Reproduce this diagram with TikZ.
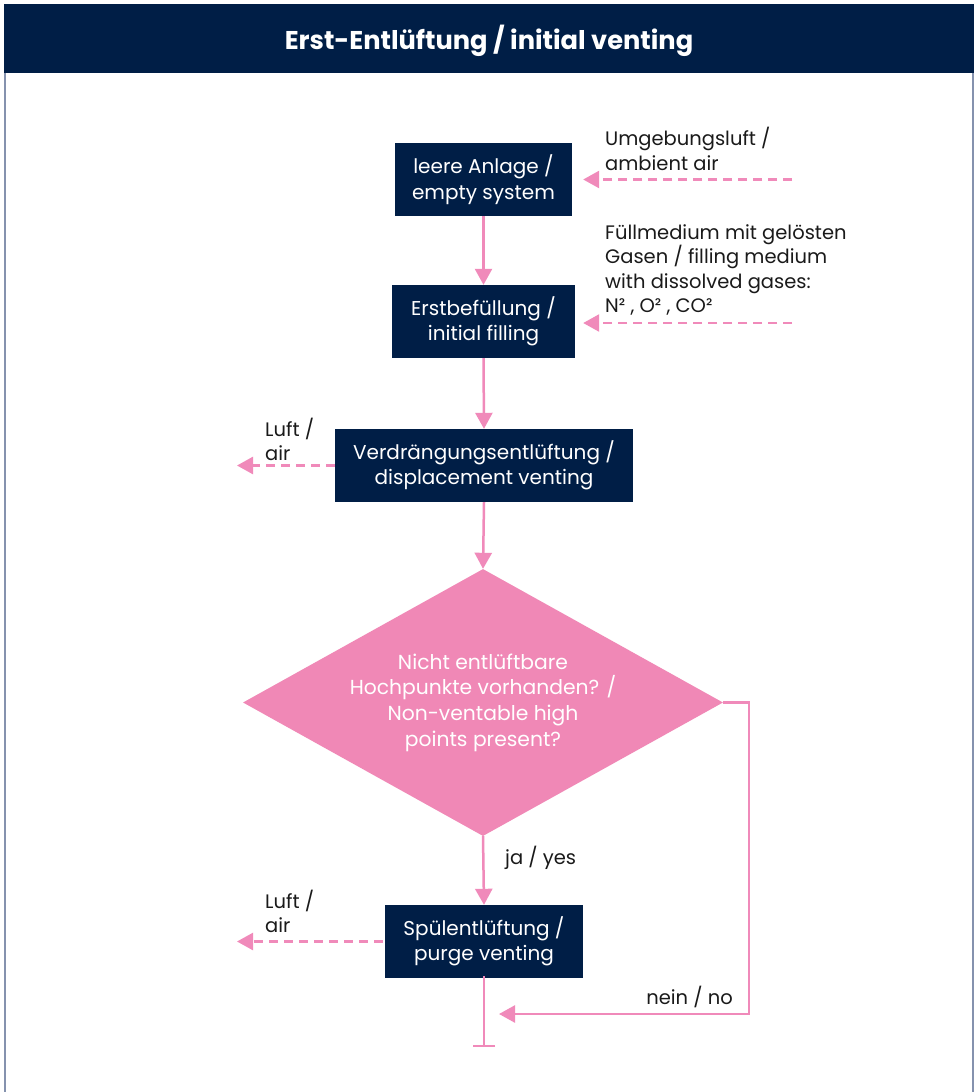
\documentclass[tikz,border=0pt]{standalone}
\usepackage{fontspec}
\setmainfont{Poppins}
\usetikzlibrary{arrows.meta,shapes.geometric}
\definecolor{navy}{HTML}{001E46}
\definecolor{pinkline}{HTML}{F08ABA}
\definecolor{pinkfill}{HTML}{F088B6}
\definecolor{bordergray}{HTML}{8592AE}
\definecolor{labeltext}{HTML}{1A1A1A}
\begin{document}
\begin{tikzpicture}[x=1pt,y=-1pt,
  procbox/.style={fill=navy, text=white, minimum height=73pt, align=center,
    font=\fontsize{20}{25.5}\selectfont, inner sep=0pt},
  decision/.style={diamond, fill=pinkfill, text=white, aspect=1.8, inner sep=0pt,
    minimum width=480pt, minimum height=267pt, align=center,
    font=\fontsize{20.3}{25.7}\selectfont},
  flow/.style={draw=pinkline, line width=2.5pt, -{Triangle[length=16pt,width=17pt]}},
  airflow/.style={flow, dash pattern=on 9pt off 6pt},
  lbl/.style={align=left, inner sep=0pt, text=labeltext, font=\fontsize{19.5}{24.2}\selectfont},
  titletext/.style={text=white, font=\fontsize{25.7}{30}\selectfont\bfseries}]

\useasboundingbox (0,0) rectangle (978,1092);
\fill[white] (0,0) rectangle (978,1092);
\draw[bordergray, line width=2pt] (5,1093) -- (5,5) -- (973,5) -- (973,1093);
\fill[navy] (4,4) rectangle (974,73);
\node[titletext] (title) at (489,41) {Erst-Entlüftung / initial venting};

% process boxes
\node[procbox, minimum width=177pt] (b1) at (483.5,179.5) {leere Anlage /\\empty system};
\node[procbox, minimum width=183pt] (b2) at (483.5,321.5) {Erstbefüllung /\\initial filling};
\node[procbox, minimum width=298pt] (b3) at (484,465.5) {Verdrängungsentlüftung /\\displacement venting};
\node[decision] (d) at (483,702.5) {Nicht entlüftbare\\Hochpunkte vorhanden? /\\Non-ventable high\\points present?};
\node[procbox, minimum width=198pt] (b4) at (484,941.5) {Spülentlüftung /\\purge venting};

% labels
\node[lbl, anchor=west] (lamb) at (605,149) {Umgebungsluft /\\ambient air};
\node[lbl, anchor=west] (lfill) at (605,270) {Füllmedium mit gelösten\\Gasen / filling medium\\with dissolved gases:\\N² , O² , CO²};
\node[lbl, anchor=west] (lair1) at (265,439) {Luft /\\air};
\node[lbl, anchor=west] (lair2) at (265,911) {Luft /\\air};
\node[lbl, anchor=west] (lyes) at (505,858) {ja / yes};
\node[lbl, anchor=east] (lno) at (733,997) {nein / no};

% free ends
\coordinate (amb) at (792,179.5);
\coordinate (fill) at (792,323);
\coordinate (air1) at (237,465.5);
\coordinate (air2) at (237,941.5);
\coordinate (endpt) at (484,1047);
\coordinate (noend) at (499,1014);

% connectors
\draw[flow] (b1.south) -- (b2.north);
\draw[flow] (b2.south) -- (b3.north);
\draw[flow] (b3.south) -- (d.north);
\draw[flow] (d.south) -- (b4.north);
\draw[draw=pinkline, line width=2.5pt, -{Bar[width=22pt,line width=2.5pt]}] ([yshift=2pt]b4.south) -- (endpt);
\draw[flow] (d.east) -- ++(26,0) |- (noend);

\draw[airflow, shorten >=11pt] (amb) -- (b1.east);
\draw[airflow, shorten >=8pt] (fill) -- (b2.east |- fill);
\draw[airflow] (b3.west) -- (air1);
\draw[airflow] ([xshift=-2pt]b4.west) -- (air2);
\end{tikzpicture}
\end{document}
